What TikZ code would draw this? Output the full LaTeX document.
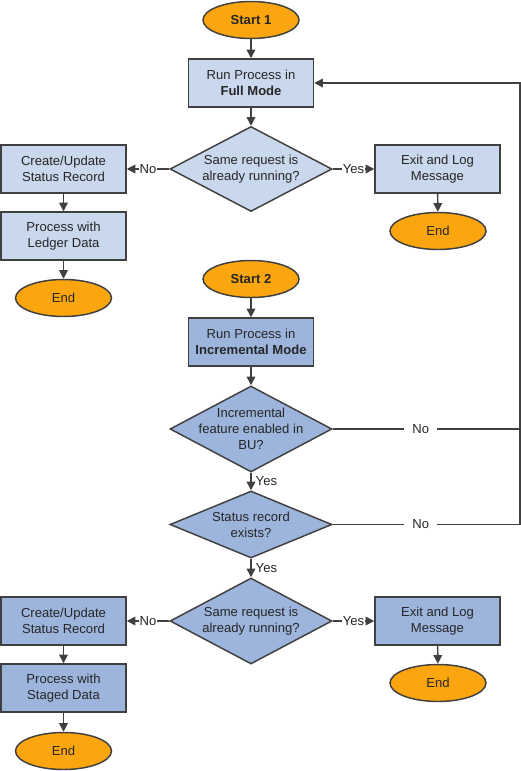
\documentclass[tikz,border=0pt]{standalone}
\usepackage{fontspec}
\setmainfont{Liberation Sans}
\usetikzlibrary{shapes.geometric,arrows.meta}

\definecolor{lightblue}{RGB}{201,216,236}
\definecolor{midblue}{RGB}{157,180,220}
\definecolor{termorange}{RGB}{251,165,15}
\definecolor{edgegray}{RGB}{64,64,64}
\definecolor{textgray}{RGB}{38,38,38}

\begin{document}
\begin{tikzpicture}[x=0.75pt,y=0.75pt,yscale=-1,
  font=\fontsize{9.8}{12}\selectfont, text=textgray,
  proc/.style={draw=edgegray,line width=1.1pt,fill=#1,align=center,
    minimum width=93.75pt,minimum height=36pt,inner sep=0pt},
  dec/.style={draw=edgegray,line width=1.1pt,fill=#1,diamond,inner sep=0pt,
    minimum width=121.5pt,minimum height=63.75pt},
  term/.style={draw=edgegray,line width=1.1pt,fill=termorange,ellipse,
    minimum width=72pt,minimum height=27.75pt,inner sep=0pt},
  arr/.style={draw=edgegray,line width=1.1pt,-{Triangle[length=6.5pt,width=6.5pt]}},
  lnk/.style={draw=edgegray,line width=1.1pt},
  lab/.style={fill=white,inner sep=0.5pt}]
\useasboundingbox (0,0) rectangle (521,771);

%Full mode part
\node[term] (start1) at (251,20) {\textbf{Start 1}};
\node[proc=lightblue] (full) at (251,83) {Run Process in\\\textbf{Full Mode}};
\node[dec=lightblue, label={[align=center]center:Same request is\\already running?}] (same1) at (251,169) {};
\node[proc=lightblue] (create1) at (63.5,169) {Create/Update\\Status Record};
\node[proc=lightblue] (ledger) at (63.5,236) {Process with\\Ledger Data};
\node[term] (end1) at (63.5,298) {End};
\node[proc=lightblue] (exit1) at (437.5,169) {Exit and Log\\Message};
\node[term] (end2) at (438,231) {End};

%Incremental mode part
\node[term] (start2) at (251,279) {\textbf{Start 2}};
\node[proc=midblue] (incr) at (251,342) {Run Process in\\\textbf{Incremental Mode}};
\node[dec=midblue, minimum height=64.5pt, label={[align=center]center:Incremental\\feature enabled in\\BU?}] (feat) at (251,429) {};
\node[dec=midblue, minimum height=50.25pt, label={[align=center]center:Status record\\exists?}] (status) at (251,524.5) {};
\node[dec=midblue, minimum height=64.5pt, label={[align=center]center:Same request is\\already running?}] (same2) at (251,621) {};
\node[proc=midblue] (create2) at (63.5,621) {Create/Update\\Status Record};
\node[proc=midblue] (staged) at (63.5,688) {Process with\\Staged Data};
\node[term] (end3) at (63.5,751) {End};
\node[proc=midblue] (exit2) at (437.5,621) {Exit and Log\\Message};
\node[term] (end4) at (438,683) {End};

%loop back corners
\coordinate (looptop) at (520,83);
\coordinate (loopmid) at (520,429);
\coordinate (loopbot) at (520,524.5);

%Connectors
\draw[arr] (start1) -- (full);
\draw[arr] (full) -- (same1);
\draw[arr] (same1.west) -- node[lab] {No} (create1.east);
\draw[arr] (same1.east) -- node[lab] {Yes} (exit1.west);
\draw[arr] (create1) -- (ledger);
\draw[arr] (ledger) -- (end1);
\draw[arr] (exit1) -- (end2);

\draw[arr] (start2) -- (incr);
\draw[arr] (incr) -- (feat);
\draw[arr] (feat) -- node[right,inner sep=3pt] {Yes} (status);
\draw[arr] (status) -- node[right,inner sep=3pt] {Yes} (same2);
\draw[arr] (same2.west) -- node[lab] {No} (create2.east);
\draw[arr] (same2.east) -- node[lab] {Yes} (exit2.west);
\draw[arr] (create2) -- (staged);
\draw[arr] (staged) -- (end3);
\draw[arr] (exit2) -- (end4);

\draw[lnk] (feat.east) -- node[lab,inner xsep=6pt,pos=0.47] {No} (loopmid);
\draw[arr] (status.east) -- node[lab,inner xsep=6pt,pos=0.47] {No} (loopbot) -- (looptop) -- (full.east);

\end{tikzpicture}
\end{document}
